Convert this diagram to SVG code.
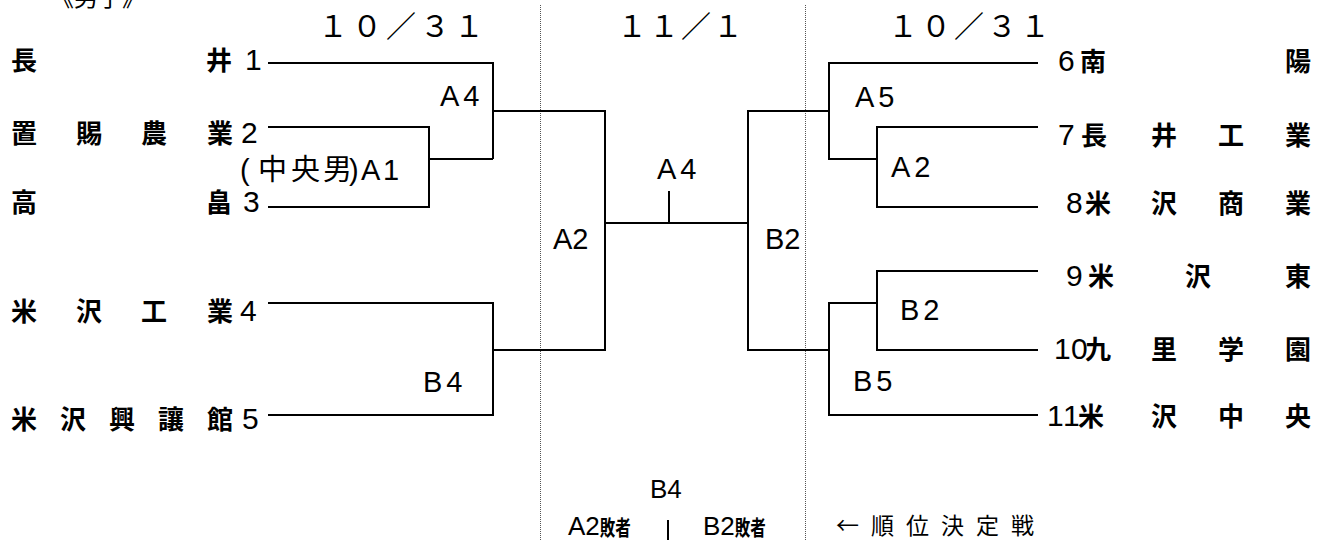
<svg xmlns="http://www.w3.org/2000/svg" width="1320" height="540" viewBox="0 0 1320 540">
<style>
text { font-family: "Liberation Sans", "Noto Sans CJK JP", sans-serif; fill: #000; }
.nm { font-size: 26px; font-weight: bold; }
.nm tspan.d { font-size: 30px; font-weight: normal; }
.hd { font-size: 30px; font-family: "Noto Sans CJK JP", sans-serif; }
.lb { font-size: 29px; }
.bt { font-size: 26px; }
.bt tspan.s { font-size: 21px; font-weight: bold; }
.nt { font-size: 23px; font-family: "Noto Sans CJK JP", sans-serif; }
.ttl { font-size: 24px; font-family: "Noto Sans CJK JP", sans-serif; }
.cn { fill: none; stroke: #000; stroke-width: 2; }
.dv { stroke: #555; stroke-width: 1; stroke-dasharray: 1 1; }
</style>
<rect width="1320" height="540" fill="#fff"/>
<g id="dividers">
<line class="dv" x1="540.5" y1="5" x2="540.5" y2="540"/>
<line class="dv" x1="805.5" y1="5" x2="805.5" y2="540"/>
</g>
<g id="connectors">
<path class="cn" d="M268,63 H493 V159"/>
<path class="cn" d="M429,159 H493"/>
<path class="cn" d="M268,127 H429 V207 H268"/>
<path class="cn" d="M268,303 H493 V415 H268"/>
<path class="cn" d="M493,111 H605 V350 H493"/>
<path class="cn" d="M605,223 H748"/>
<path class="cn" d="M669,191 V223"/>
<path class="cn" d="M829,111 H748 V350 H829"/>
<path class="cn" d="M1038,63 H829 V159 H877"/>
<path class="cn" d="M1038,127 H877 V207 H1038"/>
<path class="cn" d="M877,303 H829 V415 H1038"/>
<path class="cn" d="M1038,271 H877 V350 H1038"/>
<path class="cn" d="M668,520 V540"/>
</g>
<g id="headers">
<text class="ttl" x="50" y="6">《男子》</text>
<text class="hd" x="318" y="37" letter-spacing="4">１０／３１</text>
<text class="hd" x="617" y="37" letter-spacing="2">１１／１</text>
<text class="hd" x="888" y="37" letter-spacing="3">１０／３１</text>
</g>
<g id="team-1"><text class="nm" x="11 206 245" y="70">長井<tspan class="d">1</tspan></text></g>
<g id="team-2"><text class="nm" x="11 76 141 207 241" y="143">置賜農業<tspan class="d">2</tspan></text></g>
<g id="team-3"><text class="nm" x="11 206 243" y="212">高畠<tspan class="d">3</tspan></text></g>
<g id="team-4"><text class="nm" x="11 76 141 207 240" y="321">米沢工業<tspan class="d">4</tspan></text></g>
<g id="team-5"><text class="nm" x="11 60 109 158 207 242" y="429">米沢興讓館<tspan class="d">5</tspan></text></g>
<g id="team-6"><text class="nm" x="1058 1080 1285" y="71"><tspan class="d">6</tspan>南陽</text></g>
<g id="team-7"><text class="nm" x="1058 1081 1151 1218 1285" y="145"><tspan class="d">7</tspan>長井工業</text></g>
<g id="team-8"><text class="nm" x="1066 1085 1151 1218 1285" y="213"><tspan class="d">8</tspan>米沢商業</text></g>
<g id="team-9"><text class="nm" x="1066 1088 1185 1285" y="286"><tspan class="d">9</tspan>米沢東</text></g>
<g id="team-10"><text class="nm" x="1054 1071 1085 1151 1218 1285" y="359"><tspan class="d">10</tspan>九里学園</text></g>
<g id="team-11"><text class="nm" x="1047 1063 1078 1151 1218 1285" y="426"><tspan class="d">11</tspan>米沢中央</text></g>
<g id="match-A4-left"><text class="lb" x="440" y="106" letter-spacing="4">A4</text></g>
<g id="match-A1"><text class="lb" x="240 258 291 323 349 361 383" y="180">(中央男)A1</text></g>
<g id="match-B4-left"><text class="lb" x="423" y="392" letter-spacing="4">B4</text></g>
<g id="match-A2-center"><text class="lb" x="553" y="249">A2</text></g>
<g id="match-A4-final"><text class="lb" x="657" y="179" letter-spacing="4">A4</text></g>
<g id="match-B2-center"><text class="lb" x="765" y="249">B2</text></g>
<g id="match-A5"><text class="lb" x="855" y="107" letter-spacing="4">A5</text></g>
<g id="match-A2-right"><text class="lb" x="891" y="177" letter-spacing="4">A2</text></g>
<g id="match-B2-right"><text class="lb" x="900" y="320" letter-spacing="4">B2</text></g>
<g id="match-B5"><text class="lb" x="853" y="391" letter-spacing="4">B5</text></g>
<g id="match-B4-place"><text class="bt" x="650" y="498">B4</text></g>
<g id="loser-A2"><text class="bt" x="568" y="535">A2<tspan class="s" textLength="31" lengthAdjust="spacingAndGlyphs">敗者</tspan></text></g>
<g id="loser-B2"><text class="bt" x="703" y="535">B2<tspan class="s" textLength="31" lengthAdjust="spacingAndGlyphs">敗者</tspan></text></g>
<g id="note"><text class="nt" x="836" y="534" letter-spacing="12">←順位決定戦</text></g>
</svg>
